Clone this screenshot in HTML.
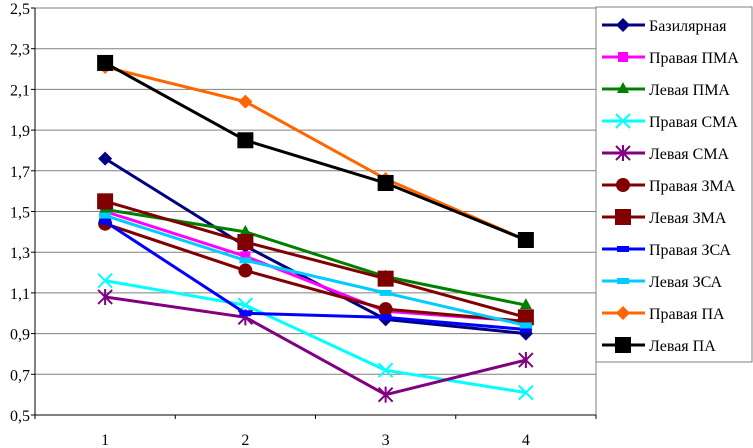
<!DOCTYPE html>
<html><head><meta charset="utf-8"><style>
html,body{margin:0;padding:0;background:#fff;}
svg{display:block;font-family:"Liberation Serif",serif;}
</style></head><body>
<svg id="chart" width="753" height="448"></svg>
<script>
const categories=["1","2","3","4"];
const yTicks=[0.5,0.7,0.9,1.1,1.3,1.5,1.7,1.9,2.1,2.3,2.5];
const yTickLabels=["0,5","0,7","0,9","1,1","1,3","1,5","1,7","1,9","2,1","2,3","2,5"];
const seriesNames=["Базилярная","Правая ПМА","Левая ПМА","Правая СМА","Левая СМА","Правая ЗМА","Левая ЗМА","Правая ЗСА","Левая ЗСА","Правая ПА","Левая ПА"];
const sBaz=[1.76,1.33,0.97,0.90];
const sRPMA=[1.50,1.28,1.01,0.96];
const sLPMA=[1.51,1.40,1.18,1.04];
const sRSMA=[1.16,1.04,0.72,0.61];
const sLSMA=[1.08,0.98,0.60,0.77];
const sRZMA=[1.44,1.21,1.02,0.96];
const sLZMA=[1.55,1.35,1.17,0.98];
const sRZSA=[1.45,1.00,0.98,0.92];
const sLZSA=[1.48,1.26,1.10,0.94];
const sRPA=[2.21,2.04,1.66,1.36];
const sLPA=[2.23,1.85,1.64,1.36];
const seriesValues=[sBaz,sRPMA,sLPMA,sRSMA,sLSMA,sRZMA,sLZMA,sRZSA,sLZSA,sRPA,sLPA];
const colors=["#000080","#FF00FF","#008000","#00FFFF","#800080","#800000","#800000","#0000FF","#00CCFF","#FF6600","#000000"];
const markers=["diamond","square","triangle","x","star","circle","bigsquare","dash","dash","diamond","bigsquare"];

const NS="http://www.w3.org/2000/svg";
const svg=document.getElementById('chart');
const L=35,R=596,T=8,B=415,yMin=0.5,yMax=2.5;
const xs=i=>L+(R-L)/categories.length*(i+0.5);
const ys=v=>B-(v-yMin)/(yMax-yMin)*(B-T);
function mk(tag,attrs,parent){const e=document.createElementNS(NS,tag);for(const k in attrs)e.setAttribute(k,attrs[k]);(parent||svg).appendChild(e);return e;}

const grid=mk('g',{});


yTicks.forEach((t,i)=>{
  if(i>0){mk('line',{x1:L,x2:R,y1:ys(t),y2:ys(t),stroke:'#808080','stroke-width':1},grid);}
  const tx=mk('text',{x:L-5,y:ys(t)+6,'text-anchor':'end','font-size':16,fill:'#000'});
  tx.textContent=yTickLabels[i];
  
  
  mk('line',{x1:L-4,x2:L,y1:ys(t),y2:ys(t),stroke:'#000'});
});
mk('line',{x1:R,x2:R,y1:T,y2:B,stroke:'#808080'});
const ya=mk('line',{x1:L,x2:L,y1:T,y2:B,stroke:'#000'});


const xa=mk('line',{x1:L,x2:R,y1:B,y2:B,stroke:'#000'});


for(let i=0;i<=categories.length;i++){const x=L+(R-L)/categories.length*i;mk('line',{x1:x,x2:x,y1:B,y2:B+4,stroke:'#000'});}
categories.forEach((c,i)=>{const t=mk('text',{x:xs(i),y:B+30,'text-anchor':'middle','font-size':16});t.textContent=c;
  
  });

function marker(type,x,y,c,g){
  if(type==='diamond')mk('polygon',{points:`${x},${y-7} ${x+7},${y} ${x},${y+7} ${x-7},${y}`,fill:c},g);
  else if(type==='square')mk('rect',{x:x-5,y:y-5,width:10,height:10,fill:c},g);
  else if(type==='bigsquare')mk('rect',{x:x-8,y:y-8,width:16,height:16,fill:c},g);
  else if(type==='triangle')mk('polygon',{points:`${x},${y-7} ${x+6},${y+4} ${x-6},${y+4}`,fill:c},g);
  else if(type==='circle')mk('circle',{cx:x,cy:y,r:7,fill:c},g);
  else if(type==='x'){mk('path',{d:`M${x-7},${y-7}L${x+7},${y+7}M${x+7},${y-7}L${x-7},${y+7}`,stroke:c,'stroke-width':2},g);}
  else if(type==='star'){mk('path',{d:`M${x-7},${y-7}L${x+7},${y+7}M${x+7},${y-7}L${x-7},${y+7}M${x},${y-8}L${x},${y+8}`,stroke:c,'stroke-width':2},g);}
  else if(type==='dash')mk('rect',{x:x-6,y:y-3,width:12,height:6,fill:c},g);
}
seriesValues.forEach((vals,s)=>{
  const g=mk('g',{});
  
  
  mk('polyline',{points:vals.map((v,i)=>xs(i)+','+ys(v)).join(' '),fill:'none',stroke:colors[s],'stroke-width':3},g);
  vals.forEach((v,i)=>marker(markers[s],xs(i),ys(v),colors[s],g));
});

const lg=mk('g',{});


mk('rect',{x:596,y:7,width:156,height:355,fill:'#fff',stroke:'#808080'},lg);
seriesNames.forEach((n,s)=>{
  const y=25+s*32;
  const e=mk('g',{},lg);
  
  
  mk('line',{x1:602,x2:645,y1:y,y2:y,stroke:colors[s],'stroke-width':3},e);
  marker(markers[s],623,y,colors[s],e);
  const t=mk('text',{x:649,y:y+6,'font-size':16},e);t.textContent=n;
});
</script>
</body></html>
